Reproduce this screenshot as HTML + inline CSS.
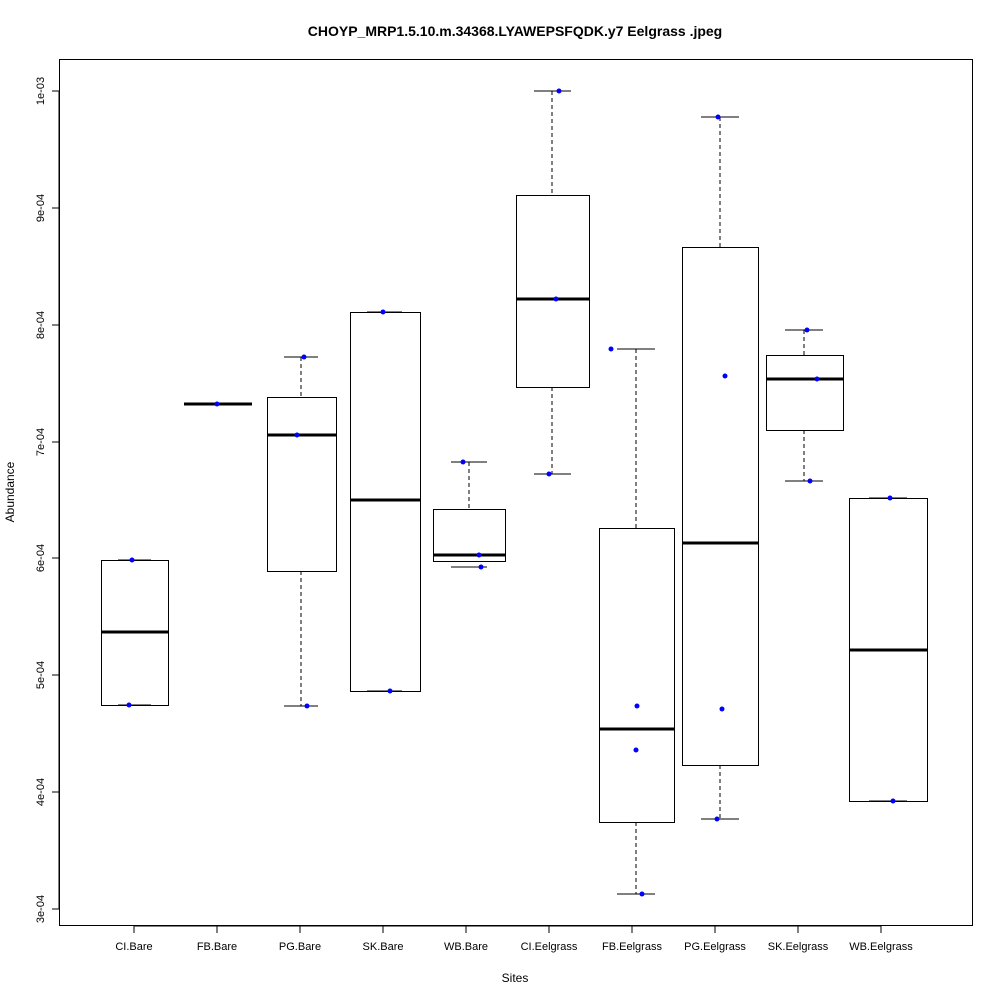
<!DOCTYPE html>
<html><head><style>body{margin:0;background:#fff}svg{display:block}text{font-family:"Liberation Sans",sans-serif;fill:#000}</style></head>
<body>
<svg width="1000" height="1000" viewBox="0 0 1000 1000" xmlns="http://www.w3.org/2000/svg">
<rect width="1000" height="1000" fill="#fff"/>
<text x="515" y="36" font-size="14" font-weight="bold" text-anchor="middle">CHOYP_MRP1.5.10.m.34368.LYAWEPSFQDK.y7 Eelgrass .jpeg</text>
<rect x="59.5" y="59.5" width="913" height="866" fill="none" stroke="#000"/>
<g stroke="#000" fill="none">
<line x1="59" y1="91" x2="59" y2="909"/>
<line x1="52" y1="91" x2="59" y2="91"/><line x1="52" y1="208" x2="59" y2="208"/><line x1="52" y1="325" x2="59" y2="325"/><line x1="52" y1="442" x2="59" y2="442"/><line x1="52" y1="558" x2="59" y2="558"/><line x1="52" y1="675" x2="59" y2="675"/><line x1="52" y1="792" x2="59" y2="792"/><line x1="52" y1="909" x2="59" y2="909"/>
<line x1="134" y1="926" x2="881" y2="926"/>
<line x1="134" y1="926" x2="134" y2="933"/><line x1="217" y1="926" x2="217" y2="933"/><line x1="300" y1="926" x2="300" y2="933"/><line x1="383" y1="926" x2="383" y2="933"/><line x1="466" y1="926" x2="466" y2="933"/><line x1="549" y1="926" x2="549" y2="933"/><line x1="632" y1="926" x2="632" y2="933"/><line x1="715" y1="926" x2="715" y2="933"/><line x1="798" y1="926" x2="798" y2="933"/><line x1="881" y1="926" x2="881" y2="933"/>
</g>
<g font-size="11" text-anchor="middle">
<text transform="translate(44,91) rotate(-90)">1e-03</text><text transform="translate(44,208) rotate(-90)">9e-04</text><text transform="translate(44,325) rotate(-90)">8e-04</text><text transform="translate(44,442) rotate(-90)">7e-04</text><text transform="translate(44,558) rotate(-90)">6e-04</text><text transform="translate(44,675) rotate(-90)">5e-04</text><text transform="translate(44,792) rotate(-90)">4e-04</text><text transform="translate(44,909) rotate(-90)">3e-04</text>
<text x="134" y="950">CI.Bare</text><text x="217" y="950">FB.Bare</text><text x="300" y="950">PG.Bare</text><text x="383" y="950">SK.Bare</text><text x="466" y="950">WB.Bare</text><text x="549" y="950">CI.Eelgrass</text><text x="632" y="950">FB.Eelgrass</text><text x="715" y="950">PG.Eelgrass</text><text x="798" y="950">SK.Eelgrass</text><text x="881" y="950">WB.Eelgrass</text>
<text x="515" y="982" font-size="12">Sites</text>
<text transform="translate(14,492) rotate(-90)" font-size="12">Abundance</text>
</g>
<g stroke="#000" fill="none">
<!-- whiskers -->
<g stroke-dasharray="4,3">
<line x1="301" y1="357" x2="301" y2="397"/><line x1="301" y1="571" x2="301" y2="706"/>
<line x1="469" y1="462" x2="469" y2="509"/>
<line x1="552" y1="91" x2="552" y2="195"/><line x1="552" y1="387" x2="552" y2="474"/>
<line x1="636" y1="349" x2="636" y2="528"/><line x1="636" y1="822" x2="636" y2="894"/>
<line x1="720" y1="117" x2="720" y2="247"/><line x1="720" y1="765" x2="720" y2="819"/>
<line x1="804" y1="330" x2="804" y2="355"/><line x1="804" y1="430" x2="804" y2="481"/>
</g>
<!-- caps -->
<line x1="118" y1="560" x2="151" y2="560"/><line x1="118" y1="705" x2="151" y2="705"/>
<line x1="284" y1="357" x2="318" y2="357"/><line x1="284" y1="706" x2="318" y2="706"/>
<line x1="367" y1="312" x2="402" y2="312"/><line x1="367" y1="691" x2="402" y2="691"/>
<line x1="451" y1="462" x2="487" y2="462"/><line x1="451" y1="567" x2="487" y2="567"/>
<line x1="534" y1="91" x2="571" y2="91"/><line x1="534" y1="474" x2="571" y2="474"/>
<line x1="617" y1="349" x2="655" y2="349"/><line x1="617" y1="894" x2="655" y2="894"/>
<line x1="701" y1="117" x2="739" y2="117"/><line x1="701" y1="819" x2="739" y2="819"/>
<line x1="785" y1="330" x2="823" y2="330"/><line x1="785" y1="481" x2="823" y2="481"/>
<line x1="869" y1="498" x2="907" y2="498"/><line x1="869" y1="801" x2="907" y2="801"/>
<!-- boxes -->
<rect x="101.5" y="560.5" width="67" height="145"/>
<rect x="267.5" y="397.5" width="69" height="174"/>
<rect x="350.5" y="312.5" width="70" height="379"/>
<rect x="433.5" y="509.5" width="72" height="52"/>
<rect x="516.5" y="195.5" width="73" height="192"/>
<rect x="599.5" y="528.5" width="75" height="294"/>
<rect x="682.5" y="247.5" width="76" height="518"/>
<rect x="766.5" y="355.5" width="77" height="75"/>
<rect x="849.5" y="498.5" width="78" height="303"/>
</g>
<g stroke="#000" stroke-width="3">
<line x1="101" y1="632" x2="169" y2="632"/>
<line x1="184" y1="404" x2="252" y2="404"/>
<line x1="267" y1="435" x2="337" y2="435"/>
<line x1="350" y1="500" x2="421" y2="500"/>
<line x1="433" y1="555" x2="506" y2="555"/>
<line x1="516" y1="299" x2="590" y2="299"/>
<line x1="599" y1="729" x2="675" y2="729"/>
<line x1="682" y1="543" x2="759" y2="543"/>
<line x1="766" y1="379" x2="844" y2="379"/>
<line x1="849" y1="650" x2="928" y2="650"/>
</g>
<g fill="#0000ff">
<circle cx="132" cy="560" r="2.5"/><circle cx="129" cy="705" r="2.5"/>
<circle cx="217" cy="404" r="2.5"/>
<circle cx="304" cy="357" r="2.5"/><circle cx="297" cy="435" r="2.5"/><circle cx="307" cy="706" r="2.5"/>
<circle cx="383" cy="312" r="2.5"/><circle cx="390" cy="691" r="2.5"/>
<circle cx="463" cy="462" r="2.5"/><circle cx="479" cy="555" r="2.5"/><circle cx="481" cy="567" r="2.5"/>
<circle cx="559" cy="91" r="2.5"/><circle cx="556" cy="299" r="2.5"/><circle cx="549" cy="474" r="2.5"/>
<circle cx="611" cy="349" r="2.5"/><circle cx="637" cy="706" r="2.5"/><circle cx="636" cy="750" r="2.5"/><circle cx="642" cy="894" r="2.5"/>
<circle cx="718" cy="117" r="2.5"/><circle cx="725" cy="376" r="2.5"/><circle cx="722" cy="709" r="2.5"/><circle cx="717" cy="819" r="2.5"/>
<circle cx="807" cy="330" r="2.5"/><circle cx="817" cy="379" r="2.5"/><circle cx="810" cy="481" r="2.5"/>
<circle cx="890" cy="498" r="2.5"/><circle cx="893" cy="801" r="2.5"/>
</g>
</svg>
</body></html>
